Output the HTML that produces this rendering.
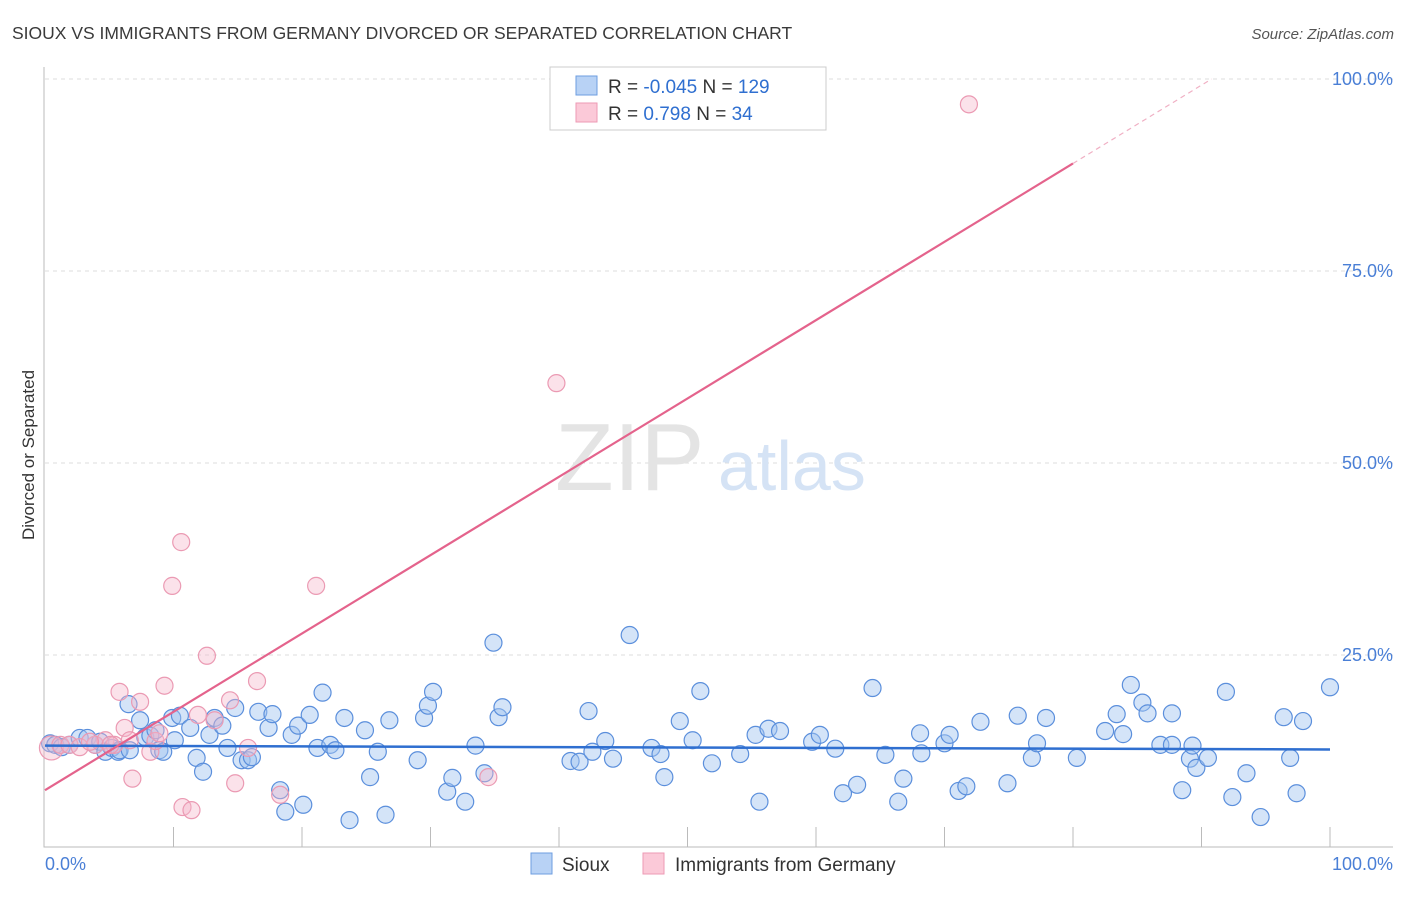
<!DOCTYPE html>
<html><head><meta charset="utf-8"><style>
body{margin:0;background:#fff;font-family:"Liberation Sans",sans-serif}
svg text{font-family:"Liberation Sans",sans-serif}
</style></head><body>
<svg id="chart" width="1406" height="892" viewBox="0 0 1406 892" xmlns="http://www.w3.org/2000/svg">
<text x="12" y="39" font-size="17.5" fill="#3a3a3a">SIOUX VS IMMIGRANTS FROM GERMANY DIVORCED OR SEPARATED CORRELATION CHART</text>
<text x="1394" y="39" font-size="15" fill="#555" text-anchor="end" font-style="italic">Source: ZipAtlas.com</text>
<g id="grid"></g>
<g>
<text x="555" y="490" font-size="96" fill="#e4e4e4" font-family="Liberation Serif, serif">ZIP</text>
<text x="718" y="490" font-size="70" fill="#d5e3f5">atlas</text>
</g>
<text transform="translate(34,455) rotate(-90)" font-size="17" fill="#333" text-anchor="middle">Divorced or Separated</text>
<g id="pts"></g>
<g id="lines"></g>
<g>
<rect x="550" y="67" width="276" height="63" fill="#fff" stroke="#ccc"/>
<rect x="576" y="76" width="21" height="19" fill="#b8d2f5" stroke="#6e9ee0"/>
<rect x="576" y="103" width="21" height="19" fill="#fbc9d8" stroke="#ee9ab4"/>
<text x="608" y="93" font-size="19" fill="#333">R = <tspan fill="#2f6fd0">-0.045</tspan>   N = <tspan fill="#2f6fd0">129</tspan></text>
<text x="608" y="120" font-size="19" fill="#333">R =   <tspan fill="#2f6fd0">0.798</tspan>   N =   <tspan fill="#2f6fd0">34</tspan></text>
</g>
<text x="45" y="870" font-size="18" fill="#4a7fd6">0.0%</text>
<text x="1393" y="870" font-size="18" fill="#4a7fd6" text-anchor="end">100.0%</text>
<g>
<rect x="531" y="853" width="21" height="21" fill="#b8d2f5" stroke="#6e9ee0"/>
<text x="562" y="871" font-size="19" fill="#333">Sioux</text>
<rect x="643" y="853" width="21" height="21" fill="#fbc9d8" stroke="#ee9ab4"/>
<text x="675" y="871" font-size="19" fill="#333">Immigrants from Germany</text>
</g>
</svg>
<script>
const yTicks=[25,50,75,100];
const yTickLabels=["25.0%","50.0%","75.0%","100.0%"];
const xTicks=[10,20,30,40,50,60,70,80,90,100];
const siouxX=[0.4,0.8,1.3,1.9,2.7,3.3,3.9,4.3,4.7,5.2,5.7,5.8,6.5,6.6,7.4,7.8,8.2,8.6,8.9,9.2,9.9,10.1,10.5,11.3,11.8,12.3,12.8,13.2,13.8,14.2,14.8,15.3,15.8,16.1,16.6,17.4,17.7,18.3,18.7,19.2,19.7,20.1,20.6,21.2,21.6,22.2,22.6,23.3,23.7,24.9,25.3,25.9,26.5,26.8,29.0,29.5,29.8,30.2,31.3,31.7,32.7,33.5,34.2,34.9,35.3,35.6,40.9,41.6,42.3,42.6,43.6,44.2,45.5,47.2,47.9,48.2,49.4,50.4,51.0,51.9,54.1,55.3,55.6,56.3,57.2,59.7,60.3,61.5,62.1,63.2,64.4,65.4,66.4,66.8,68.1,68.2,70.0,70.4,71.1,71.7,72.8,74.9,75.7,76.8,77.2,77.9,80.3,82.5,83.4,83.9,84.5,85.4,85.8,86.8,87.7,87.7,88.5,89.1,89.3,89.6,90.5,91.9,92.4,93.5,94.6,96.4,96.9,97.4,97.9,100];
const siouxY=[13.5,13.3,13.0,13.3,14.2,14.2,13.3,13.7,12.4,12.9,12.4,12.6,18.6,12.6,16.5,14.3,14.5,15.2,12.6,12.4,16.8,13.9,17.1,15.5,11.6,9.8,14.6,16.8,15.8,12.9,18.1,11.3,11.3,11.7,17.6,15.5,17.3,7.4,4.6,14.6,15.8,5.5,17.2,12.9,20.1,13.3,12.6,16.8,3.5,15.2,9.1,12.4,4.2,16.5,11.3,16.8,18.4,20.2,7.2,9.0,5.9,13.2,9.6,26.6,16.9,18.2,11.2,11.1,17.7,12.4,13.8,11.5,27.6,12.9,12.1,9.1,16.4,13.9,20.3,10.9,12.1,14.6,5.9,15.4,15.1,13.7,14.6,12.8,7.0,8.1,20.7,12.0,5.9,8.9,14.8,12.2,13.5,14.6,7.3,7.9,16.3,8.3,17.1,11.6,13.5,16.8,11.6,15.1,17.3,14.7,21.1,18.8,17.4,13.3,17.4,13.3,7.4,11.5,13.2,10.3,11.6,20.2,6.5,9.6,3.9,16.9,11.6,7.0,16.4,20.8];
const germanyX=[0.5,1.2,1.9,2.7,3.9,4.7,5.8,6.2,6.8,7.4,8.2,8.6,8.9,9.3,9.9,10.6,10.7,11.4,11.9,12.6,14.4,14.8,15.8,16.5,18.3,21.1,34.5,39.8,71.9,5.4,3.5,6.6,5.1,13.2];
const germanyY=[12.9,13.3,13.3,13.0,13.3,13.9,20.2,15.5,8.9,18.9,12.4,13.8,14.8,21.0,34.0,39.7,5.2,4.8,17.2,24.9,19.1,8.3,12.9,21.6,6.8,34.0,9.1,60.4,96.7,13.3,13.7,13.9,13.3,16.5];
const siouxTrend=[13.2,12.7];
const germanyTrend=[7.4,1.02];
const NS="http://www.w3.org/2000/svg";
const X=v=>45+v*12.85, Y=v=>847-v*7.68;
function mk(t,a){const e=document.createElementNS(NS,t);for(const k in a)e.setAttribute(k,a[k]);return e;}
const grid=document.getElementById('grid');
yTicks.forEach((t,i)=>{
 const l=mk('line',{x1:45,x2:1393,y1:Y(t),y2:Y(t),stroke:'#ddd','stroke-dasharray':'4,4'});
 
 
 grid.appendChild(l);
 const tx=mk('text',{x:1393,y:Y(t)+6,'font-size':18,fill:'#4a7fd6','text-anchor':'end'});
 tx.textContent=yTickLabels[i];
 
 
 grid.appendChild(tx);
});
xTicks.forEach(t=>{
 const l=mk('line',{x1:X(t),x2:X(t),y1:827,y2:847,stroke:'#bbb'});
 
 
 grid.appendChild(l);
});
const ax=mk('path',{d:'M44,67V847H1393',fill:'none',stroke:'#bbb'});


grid.appendChild(ax);
const pts=document.getElementById('pts');
siouxX.forEach((x,i)=>{
 const c=mk('circle',{cx:X(x),cy:Y(siouxY[i]),r:8.5,fill:'rgba(160,196,240,0.45)',stroke:'#5b8fdc','stroke-width':1.2});
 
 
 pts.appendChild(c);
});
germanyX.forEach((x,i)=>{
 const c=mk('circle',{cx:X(x),cy:Y(germanyY[i]),r:i==0?12:8.5,fill:'rgba(246,182,202,0.4)',stroke:'#eb9ab3','stroke-width':1.2});
 
 
 pts.appendChild(c);
});
const lines=document.getElementById('lines');
const bl=mk('line',{x1:X(0),y1:Y(siouxTrend[0]),x2:X(100),y2:Y(siouxTrend[1]),stroke:'#2f6fd0','stroke-width':2.5});


lines.appendChild(bl);
const gy=x=>germanyTrend[0]+germanyTrend[1]*x;
const xEnd=(100-germanyTrend[0])/germanyTrend[1];
const pl=mk('line',{x1:X(0),y1:Y(gy(0)),x2:X(80),y2:Y(gy(80)),stroke:'#e4638c','stroke-width':2.2});


lines.appendChild(pl);
const pd=mk('line',{x1:X(80),y1:Y(gy(80)),x2:X(xEnd),y2:Y(100),stroke:'#f0b0c4','stroke-width':1.2,'stroke-dasharray':'5,4'});


lines.appendChild(pd);
</script>
</body></html>
